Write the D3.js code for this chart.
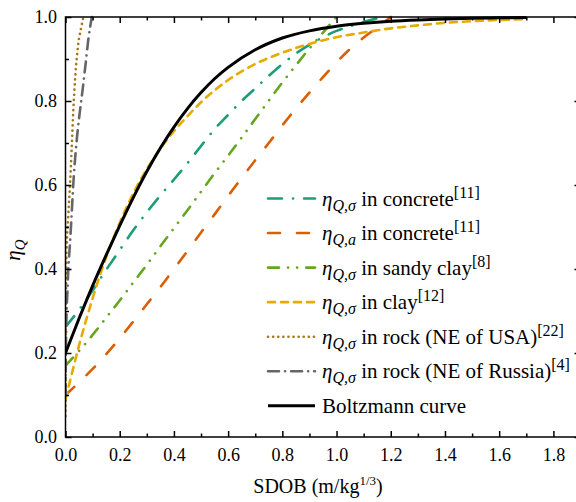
<!DOCTYPE html>
<html>
<head>
<meta charset="utf-8">
<script src="https://cdn.jsdelivr.net/npm/d3@7"></script>
<style>
  html, body { margin: 0; padding: 0; background: #fff; }
  svg { display: block; }
</style>
</head>
<body>
<svg id="chart" width="576" height="502"></svg>
<script>
// ---------------- data ----------------
const xMajorTicks = [0.0, 0.2, 0.4, 0.6, 0.8, 1.0, 1.2, 1.4, 1.6, 1.8];
const xMinorTicks = [0.1, 0.3, 0.5, 0.7, 0.9, 1.1, 1.3, 1.5, 1.7];
const yMajorTicks = [0.0, 0.2, 0.4, 0.6, 0.8, 1.0];
const yMinorTicks = [0.1, 0.3, 0.5, 0.7, 0.9];

// eta_Q,sigma in concrete [11]
const concreteSigmaX = [0, 0.05, 0.1, 0.15, 0.2, 0.25, 0.3, 0.35, 0.4, 0.45, 0.5, 0.55, 0.6, 0.65, 0.7, 0.75, 0.8, 0.85, 0.9, 0.95, 1.0, 1.05, 1.1, 1.17];
const concreteSigmaY = [0.262, 0.303, 0.349, 0.398, 0.445, 0.492, 0.535, 0.575, 0.613, 0.652, 0.693, 0.733, 0.767, 0.8, 0.83, 0.86, 0.888, 0.913, 0.934, 0.952, 0.967, 0.978, 0.988, 1.0];

// eta_Q,a in concrete [11]
const concreteAX = [0, 0.05, 0.1, 0.15, 0.2, 0.25, 0.3, 0.35, 0.4, 0.45, 0.5, 0.55, 0.6, 0.65, 0.7, 0.75, 0.8, 0.85, 0.9, 0.95, 1.0, 1.05, 1.1, 1.15, 1.2];
const concreteAY = [0.1, 0.13, 0.162, 0.197, 0.235, 0.275, 0.316, 0.357, 0.4, 0.443, 0.487, 0.53, 0.574, 0.617, 0.659, 0.7, 0.742, 0.782, 0.82, 0.857, 0.892, 0.924, 0.951, 0.975, 1.0];

// eta_Q,sigma in sandy clay [8]
const sandyClayX = [0, 0.05, 0.1, 0.15, 0.2, 0.25, 0.3, 0.35, 0.4, 0.45, 0.5, 0.55, 0.6, 0.65, 0.7, 0.75, 0.8, 0.85, 0.9, 0.95, 1.0];
const sandyClayY = [0.17, 0.205, 0.243, 0.284, 0.325, 0.368, 0.41, 0.454, 0.497, 0.54, 0.584, 0.628, 0.67, 0.713, 0.757, 0.801, 0.844, 0.885, 0.925, 0.963, 1.0];

// eta_Q,sigma in clay [12]
const clayX = [0, 0.025, 0.05, 0.1, 0.15, 0.2, 0.25, 0.3, 0.35, 0.4, 0.45, 0.5, 0.6, 0.7, 0.8, 0.9, 1.0, 1.1, 1.2, 1.3, 1.4, 1.5, 1.6, 1.7];
const clayY = [0.09, 0.155, 0.218, 0.33, 0.428, 0.51, 0.58, 0.638, 0.687, 0.728, 0.764, 0.797, 0.85, 0.888, 0.915, 0.936, 0.952, 0.963, 0.973, 0.98, 0.986, 0.99, 0.993, 0.995];

// eta_Q,sigma in rock (NE of USA) [22]
const rockUsaX = [0, 0.001, 0.002, 0.004, 0.01, 0.017, 0.023, 0.029, 0.036, 0.047, 0.058, 0.066];
const rockUsaY = [0.05, 0.2, 0.34, 0.44, 0.525, 0.605, 0.69, 0.78, 0.858, 0.935, 0.975, 1.0];

// eta_Q,sigma in rock (NE of Russia) [4]
const rockRussiaX = [0, 0.002, 0.004, 0.007, 0.01, 0.016, 0.021, 0.026, 0.031, 0.037, 0.045, 0.054, 0.063, 0.073, 0.085, 0.097];
const rockRussiaY = [0.1, 0.23, 0.295, 0.345, 0.395, 0.455, 0.51, 0.57, 0.625, 0.675, 0.73, 0.78, 0.826, 0.882, 0.95, 1.0];

// Boltzmann curve
const boltzX = [0, 0.05, 0.1, 0.15, 0.2, 0.25, 0.3, 0.35, 0.4, 0.45, 0.5, 0.55, 0.6, 0.7, 0.8, 0.9, 1.0, 1.1, 1.2, 1.3, 1.4, 1.5, 1.6, 1.7];
const boltzY = [0.2, 0.282, 0.36, 0.433, 0.503, 0.57, 0.632, 0.688, 0.738, 0.782, 0.82, 0.853, 0.88, 0.922, 0.95, 0.967, 0.978, 0.985, 0.99, 0.993, 0.995, 0.997, 0.998, 0.999];

// ---------------- series table ----------------
const series = [
  { xs: concreteSigmaX, ys: concreteSigmaY, color: "#1b9e77", dash: "14,11,0.1,11", cap: "round", w: 2.6,
    sub: "Q,σ", text: " in concrete", sup: "[11]" },
  { xs: concreteAX, ys: concreteAY, color: "#d95f02", dash: "12,17", cap: "round", w: 2.6,
    sub: "Q,a", text: " in concrete", sup: "[11]" },
  { xs: sandyClayX, ys: sandyClayY, color: "#66a61e", dash: "11,9,0.1,9,0.1,9", cap: "round", w: 2.6,
    sub: "Q,σ", text: " in sandy clay", sup: "[8]" },
  { xs: clayX, ys: clayY, color: "#e6ab02", dash: "7,6", cap: "round", w: 2.6,
    sub: "Q,σ", text: " in clay", sup: "[12]" },
  { xs: rockUsaX, ys: rockUsaY, color: "#a6761d", dash: "0.1,5", cap: "round", w: 2.6,
    sub: "Q,σ", text: " in rock (NE of USA)", sup: "[22]" },
  { xs: rockRussiaX, ys: rockRussiaY, color: "#666666", dash: "11,6,0.1,6", cap: "round", w: 2.6,
    sub: "Q,σ", text: " in rock (NE of Russia)", sup: "[4]" },
  { xs: boltzX, ys: boltzY, color: "#000000", dash: null, cap: "butt", w: 3,
    plain: "Boltzmann curve" }
];

// ---------------- drawing ----------------
const FONT = '"Liberation Serif"';
const svg = d3.select("#chart");
const x = d3.scaleLinear().domain([0, 1.9]).range([65.5, 580.5]);
const y = d3.scaleLinear().domain([0, 1]).range([437, 17]);
const fmt = d3.format(".1f");

svg.append("defs").append("clipPath").attr("id", "plotclip")
  .append("rect").attr("x", x(0)).attr("y", y(1) - 2).attr("width", x(1.9) - x(0)).attr("height", y(0) - y(1) + 2);

const line = d3.line().x(d => x(d[0])).y(d => y(d[1])).curve(d3.curveMonotoneX);

const gLines = svg.append("g").attr("clip-path", "url(#plotclip)");
series.forEach(s => {
  const pts = s.xs.map((v, i) => [v, s.ys[i]]);
  gLines.append("path")
    .datum(pts)
    .attr("d", line)
    .attr("fill", "none")
    .attr("stroke", s.color)
    .attr("stroke-width", s.w)
    .attr("stroke-linecap", s.cap)
    .attr("stroke-dasharray", s.dash);
});

function styleAxis(g) {
  g.attr("font-family", null);
  g.select(".domain").remove();
  g.selectAll(".tick line").attr("stroke", "#000").attr("stroke-width", 1.5);
  g.selectAll(".tick text").style("font-family", FONT).style("font-size", "18px").attr("fill", "#000");
}
svg.append("g").attr("transform", `translate(0,${y(0)})`)
  .call(d3.axisBottom(x).tickValues(xMajorTicks).tickFormat(fmt).tickSize(-6).tickSizeOuter(0).tickPadding(11)).call(styleAxis);
svg.append("g").attr("transform", `translate(0,${y(0)})`)
  .call(d3.axisBottom(x).tickValues(xMinorTicks).tickFormat("").tickSize(-3.5).tickSizeOuter(0)).call(styleAxis);
svg.append("g").attr("transform", `translate(0,${y(1)})`)
  .call(d3.axisTop(x).tickValues(xMajorTicks).tickFormat("").tickSize(-6).tickSizeOuter(0)).call(styleAxis);
svg.append("g").attr("transform", `translate(0,${y(1)})`)
  .call(d3.axisTop(x).tickValues(xMinorTicks).tickFormat("").tickSize(-3.5).tickSizeOuter(0)).call(styleAxis);
svg.append("g").attr("transform", `translate(${x(0)},0)`)
  .call(d3.axisLeft(y).tickValues(yMajorTicks).tickFormat(fmt).tickSize(-6).tickSizeOuter(0).tickPadding(8.5)).call(styleAxis);
svg.append("g").attr("transform", `translate(${x(0)},0)`)
  .call(d3.axisLeft(y).tickValues(yMinorTicks).tickFormat("").tickSize(-3.5).tickSizeOuter(0)).call(styleAxis);
svg.append("g").attr("transform", `translate(${x(1.9)},0)`)
  .call(d3.axisRight(y).tickValues(yMajorTicks).tickFormat("").tickSize(-6).tickSizeOuter(0)).call(styleAxis);
svg.append("g").attr("transform", `translate(${x(1.9)},0)`)
  .call(d3.axisRight(y).tickValues(yMinorTicks).tickFormat("").tickSize(-3.5).tickSizeOuter(0)).call(styleAxis);

svg.append("rect")
  .attr("x", x(0)).attr("y", y(1))
  .attr("width", x(1.9) - x(0)).attr("height", y(0) - y(1))
  .attr("fill", "none").attr("stroke", "#000").attr("stroke-width", 1.5);

// axis titles
const xt = svg.append("text").attr("x", 318).attr("y", 493).attr("text-anchor", "middle")
  .style("font-family", FONT).style("font-size", "20px").attr("fill", "#000");
xt.append("tspan").style("font-family", FONT).text("SDOB (m/kg");
xt.append("tspan").attr("dy", -8).style("font-family", FONT).style("font-size", "13px").text("1/3");
xt.append("tspan").attr("dy", 8).style("font-family", FONT).text(")");

const yt = svg.append("text").attr("transform", "translate(20,250) rotate(-90)").attr("text-anchor", "middle")
  .style("font-family", FONT).style("font-size", "21px").attr("fill", "#000");
yt.append("tspan").style("font-family", FONT).style("font-style", "italic").text("η");
yt.append("tspan").attr("dy", 5).style("font-family", FONT).style("font-style", "italic").style("font-size", "15px").text("Q");

// legend
const legX0 = 268, legX1 = 315, legTextX = 322, legY0 = 198.5, legDy = 34.55;
const leg = svg.append("g");
series.forEach((s, i) => {
  const yy = legY0 + i * legDy;
  leg.append("line")
    .attr("x1", legX0).attr("x2", legX1).attr("y1", yy).attr("y2", yy)
    .attr("stroke", s.color).attr("stroke-width", s.w)
    .attr("stroke-linecap", s.cap).attr("stroke-dasharray", s.dash);
  const t = leg.append("text").attr("x", legTextX).attr("y", yy + 7)
    .style("font-family", FONT).style("font-size", "21px").attr("fill", "#000");
  if (s.plain) {
    t.text(s.plain);
  } else {
    t.append("tspan").style("font-family", FONT).style("font-style", "italic").text("η");
    t.append("tspan").attr("dy", 5).style("font-family", FONT).style("font-style", "italic").style("font-size", "16px").text(s.sub);
    t.append("tspan").attr("dy", -5).style("font-family", FONT).text(s.text);
    t.append("tspan").attr("dy", -8).style("font-family", FONT).style("font-size", "16px").text(s.sup);
  }
});
</script>
</body>
</html>
